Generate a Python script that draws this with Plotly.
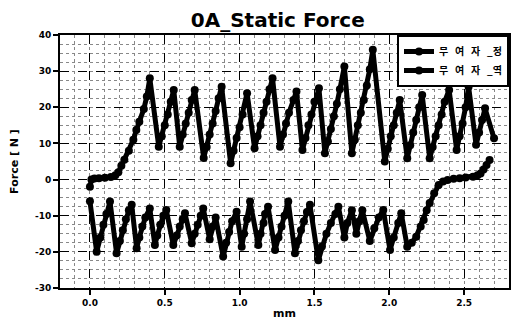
import plotly.graph_objects as go

series_names = ["무\u00a0\u00a0\u00a0여\u00a0\u00a0\u00a0자\u00a0\u00a0\u00a0_정",
                "무\u00a0\u00a0\u00a0여\u00a0\u00a0\u00a0자\u00a0\u00a0\u00a0_역"]

x_fwd = [0.00, 0.01, 0.03, 0.06, 0.10, 0.14, 0.17, 0.19, 0.21, 0.23, 0.26, 0.29, 0.31, 0.33, 0.36, 0.38, 0.40,
         0.46, 0.48, 0.50, 0.52, 0.54, 0.56,
         0.60, 0.62, 0.64, 0.66, 0.68, 0.70,
         0.76, 0.78, 0.80, 0.82, 0.84, 0.86, 0.88,
         0.94, 0.96, 0.98, 1.00, 1.02, 1.05,
         1.10, 1.12, 1.14, 1.16, 1.18, 1.20, 1.22,
         1.27, 1.29, 1.31, 1.33, 1.36, 1.38,
         1.42, 1.44, 1.46, 1.48, 1.50, 1.53,
         1.57, 1.59, 1.61, 1.63, 1.65, 1.67, 1.70,
         1.75, 1.77, 1.79, 1.81, 1.83, 1.85, 1.87, 1.89,
         1.97, 1.99, 2.01, 2.03, 2.05, 2.07,
         2.12, 2.14, 2.16, 2.18, 2.20, 2.22,
         2.27, 2.29, 2.31, 2.33, 2.35, 2.37, 2.40,
         2.45, 2.47, 2.49, 2.51, 2.53,
         2.58, 2.60, 2.62, 2.64,
         2.70]
y_fwd = [-2.0, 0.0, 0.3, 0.4, 0.5, 0.7, 1.2, 2.0, 3.8, 5.5, 8.0, 11.0, 13.7, 16.0, 19.5, 23.0, 28.0,
         9.1, 12.0, 15.0, 18.0, 21.5, 24.8,
         9.1, 12.5, 15.5, 18.5, 22.0, 24.8,
         6.0, 9.0, 12.5, 15.5, 19.0, 22.5, 25.7,
         4.5, 8.0, 11.5, 14.5, 18.0, 23.9,
         8.7, 12.0, 15.0, 18.5, 21.5, 25.0, 28.0,
         9.1, 12.5, 15.5, 18.5, 22.0, 24.4,
         8.2, 11.5, 15.0, 18.0, 21.5, 25.3,
         7.3, 10.5, 14.0, 17.5, 21.0, 25.0, 31.3,
         7.3, 11.0, 15.0, 18.5, 22.0, 26.0, 30.5, 35.9,
         5.0, 8.5, 12.0, 15.0, 18.5, 22.0,
         5.9, 9.5, 13.0, 16.5, 20.0, 23.4,
         5.9, 9.0, 12.0, 15.0, 18.0, 21.5, 24.8,
         8.2, 12.0, 15.5, 20.0, 25.7,
         9.6, 13.0, 16.5, 19.7,
         11.4]

x_bwd = [0.00, 0.045, 0.07, 0.09, 0.11, 0.134, 0.178, 0.20, 0.22, 0.24, 0.26, 0.279,
         0.312, 0.33, 0.35, 0.37, 0.40, 0.434, 0.45, 0.47, 0.49, 0.51,
         0.557, 0.58, 0.60, 0.62, 0.635, 0.68, 0.70, 0.72, 0.74, 0.757,
         0.80, 0.82, 0.84, 0.89, 0.91, 0.93, 0.95, 0.98,
         1.014, 1.03, 1.05, 1.07, 1.125, 1.14, 1.16, 1.17, 1.19,
         1.237, 1.26, 1.28, 1.30, 1.325, 1.37, 1.39, 1.41, 1.43, 1.45, 1.47,
         1.526, 1.55, 1.58, 1.61, 1.64, 1.66, 1.70, 1.72, 1.75, 1.78, 1.80, 1.82,
         1.87, 1.90, 1.93, 1.96, 2.005, 2.03, 2.06, 2.08,
         2.12, 2.15, 2.18, 2.21, 2.23, 2.25, 2.27, 2.30, 2.33, 2.36, 2.39,
         2.43, 2.47, 2.51, 2.56, 2.59, 2.61, 2.63, 2.65, 2.67]
y_bwd = [-6.0, -20.0, -16.0, -12.5, -9.5, -6.1, -20.4, -17.0, -14.0, -11.0, -8.5, -7.0,
         -19.0, -16.0, -13.0, -10.5, -8.0, -18.1, -15.5, -12.5, -10.0, -8.4,
         -18.1, -15.5, -13.0, -11.0, -9.3, -17.6, -15.0, -12.5, -10.0, -8.0,
         -16.5, -13.0, -10.5, -21.3, -17.5, -14.5, -11.5, -8.9,
         -18.6, -15.0, -11.0, -6.1, -18.1, -15.0, -12.0, -9.5, -7.5,
         -19.5, -16.0, -13.0, -10.0, -6.1, -20.4, -17.0, -14.0, -11.5, -9.0, -7.0,
         -22.3, -18.5, -15.0, -12.0, -9.5, -7.5, -16.0, -12.0, -8.5, -15.0, -11.5, -8.5,
         -17.0, -13.5, -10.5, -8.4, -19.5, -16.0, -12.0, -9.3,
         -18.6, -17.5, -15.8, -13.0, -11.2, -8.5, -6.5, -3.8, -1.5, -0.5, -0.1,
         0.2, 0.4, 0.6, 0.8, 1.2, 1.7, 2.8, 4.0, 5.4]

x_ticks = [0.0, 0.5, 1.0, 1.5, 2.0, 2.5]
x_tick_labels = ["0.0", "0.5", "1.0", "1.5", "2.0", "2.5"]
y_ticks = [-30, -20, -10, 0, 10, 20, 30, 40]
y_tick_labels = ["-30", "-20", "-10", "0", "10", "20", "30", "40"]

BASE = "DejaVu Sans, Liberation Sans, sans-serif"
CJK = "Noto Sans CJK KR, sans-serif"

fig = go.Figure()
for xs, ys, name in [(x_fwd, y_fwd, series_names[0]), (x_bwd, y_bwd, series_names[1])]:
    fig.add_trace(go.Scatter(
        x=xs, y=ys, name=name, mode="lines+markers",
        line=dict(color="black", width=5),
        marker=dict(color="black", size=8, symbol="circle"),
    ))

axis_common = dict(
    showline=True, linecolor="black", linewidth=2, mirror=True,
    ticks="outside", ticklen=5, tickwidth=2, tickcolor="black",
    showgrid=True, gridcolor="black", gridwidth=1, griddash="dash",
    zeroline=False, automargin=False,
    tickfont=dict(family=BASE, size=9, color="black", weight="bold"),
)

fig.update_xaxes(
    **axis_common, range=[-0.2, 2.8], tickvals=x_ticks, ticktext=x_tick_labels,
    minor=dict(dtick=0.1, showgrid=True, gridcolor="#888", gridwidth=1, griddash="dot"),
    title=dict(text="mm", font=dict(family=BASE, size=11, color="black", weight="bold"), standoff=6),
)
fig.update_yaxes(
    **axis_common, range=[-30, 40], tickvals=y_ticks, ticktext=y_tick_labels,
    minor=dict(dtick=2.5, showgrid=True, gridcolor="#888", gridwidth=1, griddash="dot"),
    title=dict(text="Force [ N ]", font=dict(family=BASE, size=11, color="black", weight="bold"), standoff=14),
)

# page has an 8px body margin, so the figure is drawn 8px smaller and offset
fig.update_layout(
    width=511, height=312,
    margin=dict(l=52, r=10, t=27, b=32, autoexpand=False),
    paper_bgcolor="white", plot_bgcolor="white",
    title=dict(text="0A_Static Force", x=0.528, xanchor="center", y=0.962, yanchor="middle",
               automargin=False,
               font=dict(family=BASE, size=20, color="black", weight="bold")),
    legend=dict(x=1, xanchor="right", y=1, yanchor="top",
                bgcolor="white", bordercolor="black", borderwidth=2,
                font=dict(family=CJK, size=10, color="black", weight="bold"),
                itemwidth=30, tracegroupgap=0),
    showlegend=True,
)

fig.write_html("out.html")
